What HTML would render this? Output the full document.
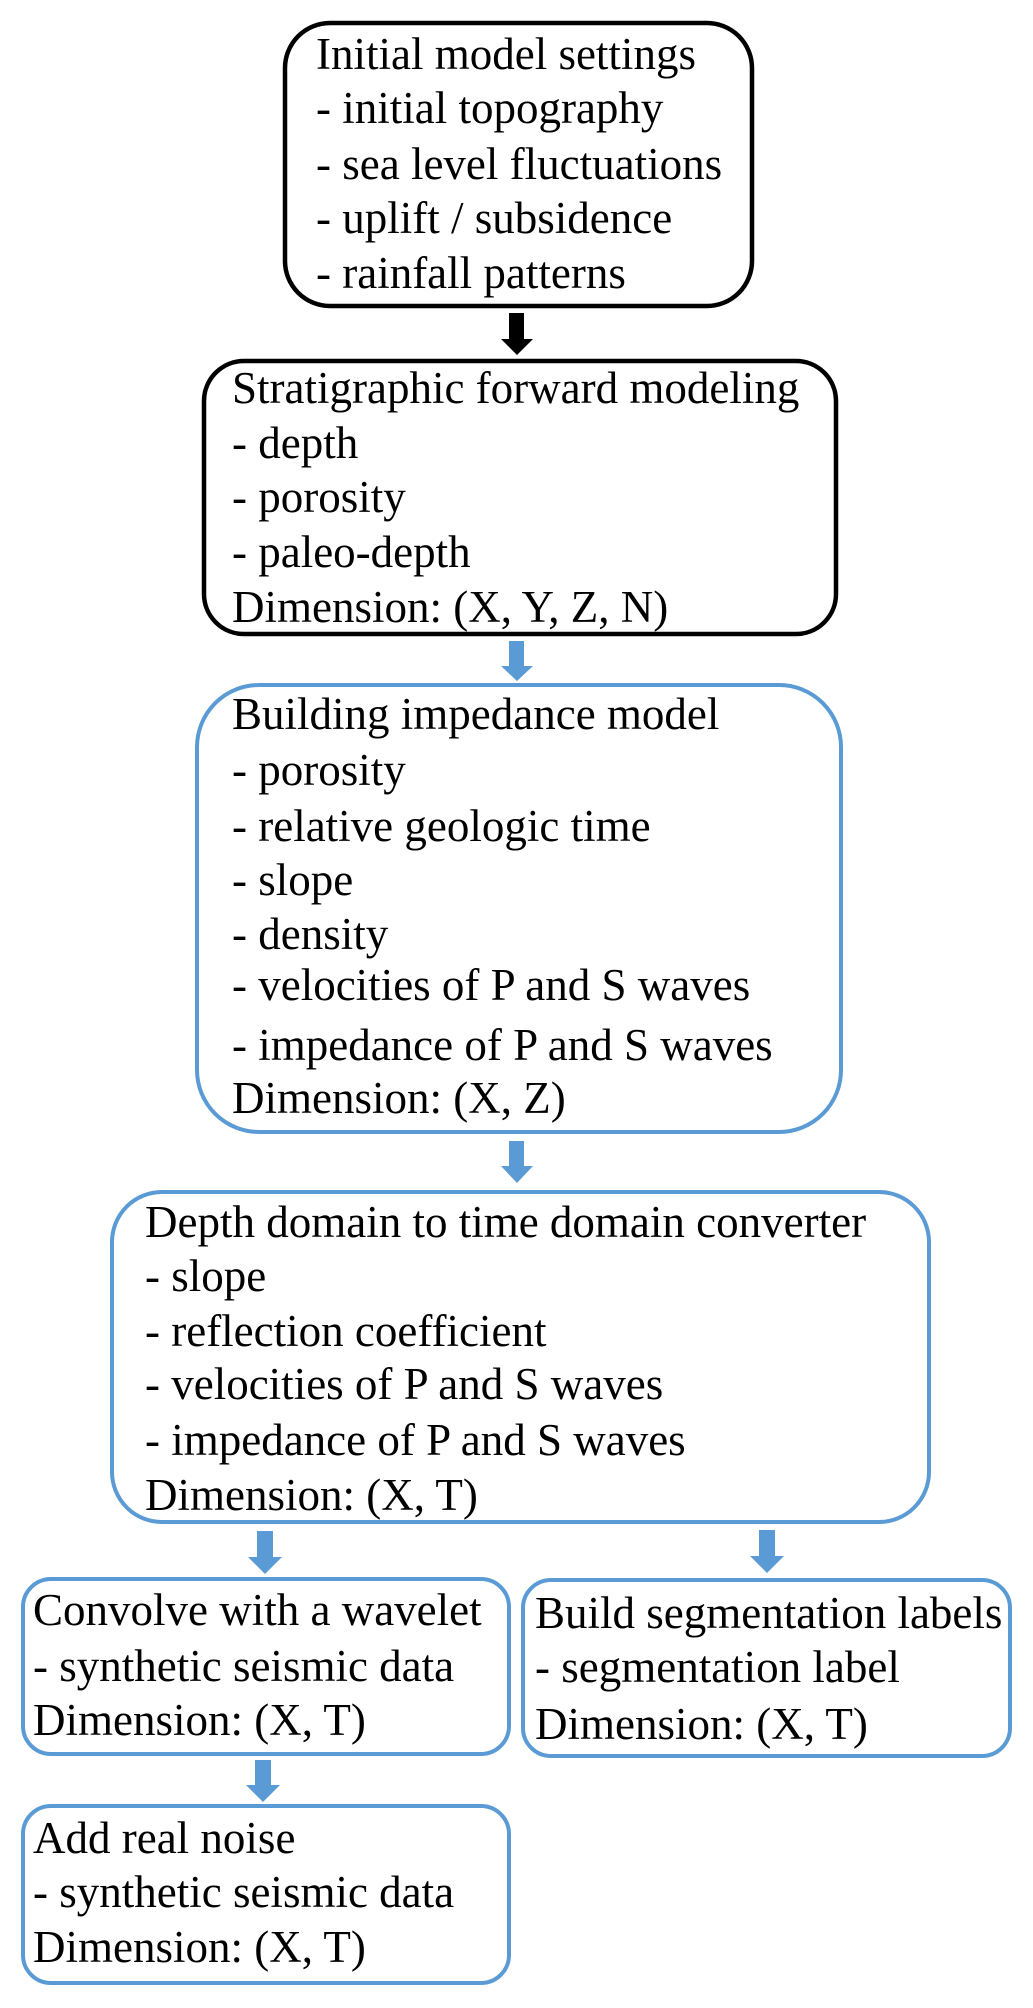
<!DOCTYPE html>
<html><head><meta charset="utf-8"><style>
html,body{margin:0;padding:0;background:#fff;}
svg{display:block;}
text{font-family:"Liberation Serif",serif;font-size:45px;fill:#000;}
</style></head><body>
<svg width="1033" height="2008" viewBox="0 0 1033 2008" xmlns="http://www.w3.org/2000/svg">
<g fill="none" stroke-width="4.5">
<rect x="285" y="23" width="467" height="283" rx="45" stroke="#000"/>
<rect x="204" y="361" width="632" height="273" rx="40" stroke="#000"/>
</g>
<g fill="none" stroke="#5b9bd5" stroke-width="4">
<rect x="197" y="685" width="644" height="447" rx="62"/>
<rect x="112" y="1192" width="817" height="330" rx="50"/>
<rect x="23" y="1579" width="486" height="175" rx="28"/>
<rect x="523" y="1580" width="487" height="176" rx="28"/>
<rect x="23" y="1806" width="486" height="177" rx="28"/>
</g>
<path d="M509 313 H524 V339 H533 L517 355 L501 339 H509 Z" fill="#000"/>
<g fill="#5b9bd5">
<path d="M509 641 H524 V666 H533 L517 681 L501 666 H509 Z"/>
<path d="M509 1141 H524 V1166 H533 L517 1183 L501 1166 H509 Z"/>
<path d="M257 1531 H273 V1557 H282 L265 1574 L248 1557 H257 Z"/>
<path d="M759 1530 H775 V1556 H784 L767 1573 L750 1556 H759 Z"/>
<path d="M255 1760 H271 V1785 H280 L263 1802 L246 1785 H255 Z"/>
</g>
<text x="316" y="69">Initial model settings</text>
<text x="316" y="123">- initial topography</text>
<text x="316" y="179">- sea level fluctuations</text>
<text x="316" y="233">- uplift / subsidence</text>
<text x="316" y="288">- rainfall patterns</text>

<text x="232" y="403">Stratigraphic forward modeling</text>
<text x="232" y="458">- depth</text>
<text x="232" y="512">- porosity</text>
<text x="232" y="567">- paleo-depth</text>
<text x="232" y="622">Dimension: (X, Y, Z, N)</text>

<text x="232" y="729">Building impedance model</text>
<text x="232" y="785">- porosity</text>
<text x="232" y="841">- relative geologic time</text>
<text x="232" y="895">- slope</text>
<text x="232" y="949">- density</text>
<text x="232" y="1000">- velocities of P and S waves</text>
<text x="232" y="1060">- impedance of P and S waves</text>
<text x="232" y="1113">Dimension: (X, Z)</text>

<text x="145" y="1237">Depth domain to time domain converter</text>
<text x="145" y="1291">- slope</text>
<text x="145" y="1346">- reflection coefficient</text>
<text x="145" y="1399">- velocities of P and S waves</text>
<text x="145" y="1455">- impedance of P and S waves</text>
<text x="145" y="1510">Dimension: (X, T)</text>

<text x="33" y="1625">Convolve with a wavelet</text>
<text x="33" y="1681">- synthetic seismic data</text>
<text x="33" y="1735">Dimension: (X, T)</text>

<text x="535" y="1628">Build segmentation labels</text>
<text x="535" y="1682">- segmentation label</text>
<text x="535" y="1739">Dimension: (X, T)</text>

<text x="33" y="1853">Add real noise</text>
<text x="33" y="1907">- synthetic seismic data</text>
<text x="33" y="1962">Dimension: (X, T)</text>
</svg>
</body></html>
